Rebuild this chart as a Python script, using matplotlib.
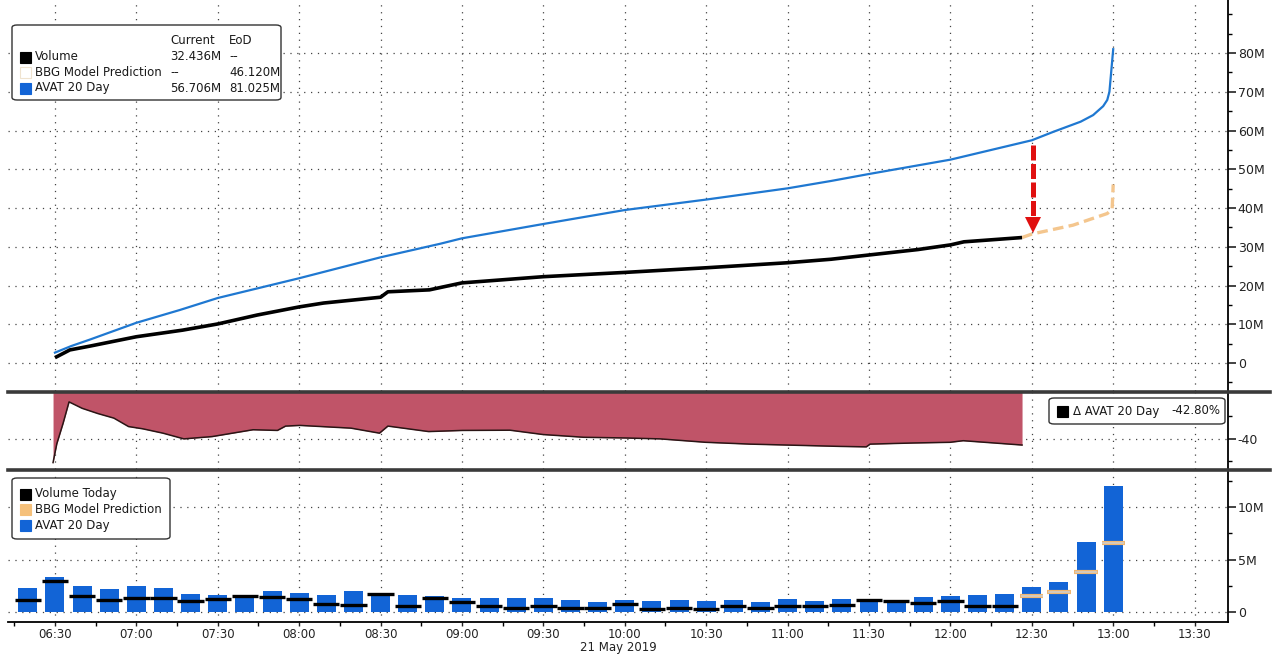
import matplotlib.pyplot as plt
import matplotlib.ticker as mticker
from matplotlib.lines import Line2D
from matplotlib.patches import FancyBboxPatch, Rectangle

plt.rcParams['font.family'] = ['DejaVu Sans']
plt.rcParams['axes.unicode_minus'] = False

# times are minutes after midnight
avat_t = [390, 396, 403, 420, 436, 450, 470, 480, 510, 532, 540, 570, 600, 630, 660,
          676, 690, 720, 750, 758, 768, 772.6, 776.3, 777.8, 778.6, 780]
avat_v = [2.7, 4.4, 6.1, 10.4, 13.7, 16.8, 20.2, 21.9, 27.3, 30.8, 32.2, 35.9, 39.5, 42.2, 45.1,
          47.0, 48.8, 52.5, 57.5, 59.7, 62.3, 64.0, 66.3, 67.9, 70.0, 81.0]

vol_t = [390, 395.5, 403, 420, 437, 450, 464.5, 480, 489, 510, 512.7, 528, 540, 570, 600,
         630, 660, 676, 690, 708, 720, 725, 746.4]
vol_v = [1.4, 3.4, 4.4, 6.8, 8.5, 10.1, 12.4, 14.5, 15.5, 17.0, 18.4, 18.9, 20.7, 22.3, 23.4,
         24.6, 25.9, 26.8, 27.9, 29.3, 30.5, 31.3, 32.4]

pred_t = [746.4, 750, 765.2, 777.8, 779.6, 780]
pred_v = [32.4, 33.3, 35.6, 38.6, 39.8, 46.1]

delta_t = [389.3, 390.7, 393, 395.2, 400, 405.8, 411.7, 417.1, 422.4, 429.8, 437.5, 447.9,
           463, 472, 475, 480.3, 499.1, 509.6, 512.7, 527.7, 540.2, 557.7, 569.9, 584.9,
           600.1, 613, 629.8, 646.2, 659.7, 679.4, 689, 690.4, 706.3, 719.9, 724.7, 746.4]
delta_v = [-50.5, -42.2, -33.3, -23.9, -26.7, -29.0, -31.0, -34.7, -35.7, -37.6, -40.1, -39.1,
           -36.1, -36.4, -34.5, -34.2, -35.4, -37.6, -34.5, -36.9, -36.4, -36.3, -38.2, -39.4,
           -39.7, -40.1, -41.6, -42.4, -42.8, -43.4, -43.6, -42.4, -41.9, -41.6, -40.9, -42.8]

bar_times = ['06:20', '06:30', '06:40', '06:50', '07:00', '07:10', '07:20', '07:30', '07:40',
             '07:50', '08:00', '08:10', '08:20', '08:30', '08:40', '08:50', '09:00', '09:10',
             '09:20', '09:30', '09:40', '09:50', '10:00', '10:10', '10:20', '10:30', '10:40',
             '10:50', '11:00', '11:10', '11:20', '11:30', '11:40', '11:50', '12:00', '12:10',
             '12:20', '12:30', '12:40', '12:50', '13:00']
avat_bars = [2.3, 3.3, 2.47, 2.18, 2.47, 2.28, 1.7, 1.6, 1.6, 2.02, 1.83, 1.6, 2.02, 1.65,
             1.6, 1.5, 1.28, 1.28, 1.35, 1.35, 1.12, 0.96, 1.12, 1.03, 1.12, 1.03, 1.12, 0.9,
             1.22, 1.03, 1.22, 1.12, 1.12, 1.38, 1.5, 1.6, 1.7, 2.37, 2.85, 6.73, 12.08]
vol_bars = [1.12, 2.95, 1.5, 1.12, 1.28, 1.28, 1.06, 1.22, 1.5, 1.44, 1.22, 0.74, 0.64, 1.7,
            0.54, 1.35, 0.96, 0.58, 0.38, 0.58, 0.38, 0.38, 0.74, 0.23, 0.38, 0.23, 0.58, 0.38,
            0.58, 0.58, 0.64, 1.12, 1.06, 0.86, 1.06, 0.58, 0.58]
pred_bars = [1.45, 1.9, 3.8, 6.6]

x_ticks = ['06:30', '07:00', '07:30', '08:00', '08:30', '09:00', '09:30', '10:00', '10:30',
           '11:00', '11:30', '12:00', '12:30', '13:00', '13:30']
top_ticks = [0, 10, 20, 30, 40, 50, 60, 70, 80]
bottom_ticks = [0, 5, 10]


def to_min(s):
    h, m = s.split(':')
    return int(h) * 60 + int(m)


def fmt_time(v, pos=None):
    v = int(round(v))
    return f'{v // 60:02d}:{v % 60:02d}'


def fmt_m(v, pos=None):
    return '0' if abs(v) < 1e-9 else f'{v:.0f}M'


W, H = 1280, 659
BLUE_LINE = '#1f78d1'
BLUE_BAR = '#1264d6'
ORANGE = '#f4c68e'
RED = '#e01010'
FILL = '#c05468'

fig = plt.figure(figsize=(W / 100, H / 100), dpi=100)
fig.patch.set_facecolor('white')


def px_axes(x0, y0, x1, y1):
    return fig.add_axes([x0 / W, 1 - y1 / H, (x1 - x0) / W, (y1 - y0) / H])


ax1 = px_axes(8, 0, 1228, 391)
ax2 = px_axes(8, 393, 1228, 469)
ax3 = px_axes(8, 471, 1228, 622)

xmin, xmax = 372.7, 822.3
grid_kw = dict(color='#444444', linestyle=(0, (1, 4.5)), linewidth=0.9)
major_x = [to_min(s) for s in x_ticks]

for ax in (ax1, ax2, ax3):
    ax.set_xlim(xmin, xmax)
    ax.yaxis.tick_right()
    for s in ('left', 'top', 'bottom'):
        ax.spines[s].set_visible(False)
    ax.spines['right'].set_linewidth(1.3)
    ax.spines['right'].set_color('black')
    ax.xaxis.set_major_locator(mticker.FixedLocator(major_x))
    ax.xaxis.set_minor_locator(mticker.MultipleLocator(15))
    ax.tick_params(axis='y', which='major', direction='out', length=6, width=1.2,
                   labelsize=9, colors='#222222', pad=1)
    ax.tick_params(axis='y', which='minor', direction='out', length=3, width=1.0)
    ax.grid(True, axis='both', which='major', **grid_kw)
    ax.set_axisbelow(True)

for ax in (ax1, ax2):
    ax.tick_params(axis='x', which='both', bottom=False, labelbottom=False)

ax3.spines['bottom'].set_visible(True)
ax3.spines['bottom'].set_linewidth(1.3)
ax3.xaxis.set_major_formatter(mticker.FuncFormatter(fmt_time))
ax3.tick_params(axis='x', which='major', direction='out', length=3, width=1.0,
                labelsize=8.5, colors='#222222', pad=1)
ax3.tick_params(axis='x', which='minor', direction='out', length=3, width=1.0)

# top panel: cumulative volume
ax1.set_ylim(-7.2, 93.7)
ax1.yaxis.set_major_locator(mticker.FixedLocator(top_ticks))
ax1.yaxis.set_minor_locator(mticker.MultipleLocator(5))
ax1.yaxis.set_major_formatter(mticker.FuncFormatter(fmt_m))
ax1.plot(avat_t, avat_v, color=BLUE_LINE, lw=1.6, zorder=3)
ax1.plot(pred_t, pred_v, color=ORANGE, lw=2.4, linestyle=(0, (3.2, 1.6)), zorder=3)
ax1.plot(vol_t, vol_v, color='black', lw=2.6, zorder=4, solid_capstyle='butt')

# red arrow showing the gap
arrow_t = 750.6
ax1.plot([arrow_t, arrow_t], [56.3, 37.6], color=RED, lw=3.6, linestyle=(0, (3, 0.7)),
         solid_capstyle='butt', zorder=5)
ax1.plot([arrow_t], [35.6], marker='v', markersize=12, color=RED, markeredgewidth=0, zorder=5)

# middle panel: delta vs AVAT
ax2.set_ylim(-53.3, -20)
ax2.yaxis.set_major_locator(mticker.FixedLocator([-40]))
ax2.yaxis.set_minor_locator(mticker.FixedLocator([-50, -30]))
ax2.yaxis.set_major_formatter(mticker.FuncFormatter(lambda v, p: f'{v:.0f}'))
ax2.fill_between(delta_t, delta_v, 0, color=FILL, linewidth=0, zorder=2)
ax2.plot(delta_t, delta_v, color='#2a1515', lw=1.1, zorder=3)

# bottom panel: interval volume
bar_x = [to_min(s) for s in bar_times]
ax3.set_ylim(-1.0, 13.5)
ax3.yaxis.set_major_locator(mticker.FixedLocator(bottom_ticks))
ax3.yaxis.set_minor_locator(mticker.MultipleLocator(2.5))
ax3.yaxis.set_major_formatter(mticker.FuncFormatter(fmt_m))
ax3.bar(bar_x, avat_bars, width=7.0, color=BLUE_BAR, linewidth=0, zorder=2)
vx = bar_x[:len(vol_bars)]
ax3.hlines(vol_bars, [x - 4.85 for x in vx], [x + 4.85 for x in vx], color='black',
           lw=2.4, zorder=3)
px = bar_x[len(bar_x) - len(pred_bars):]
ax3.hlines(pred_bars, [x - 4.3 for x in px], [x + 4.3 for x in px], color='#f0b772',
           lw=3.0, zorder=3)
ax3.hlines(pred_bars, [x - 4.0 for x in px], [x + 4.0 for x in px], color='#cfcfcf',
           lw=1.1, zorder=4)

# panel separators
for yy in (391.5, 469.5):
    fig.add_artist(Line2D([8 / W, 1270 / W], [1 - yy / H, 1 - yy / H], color='#3a3a3a',
                          lw=2.6, transform=fig.transFigure))

fig.text(618 / W, 1 - 648 / H, '21 May 2019', ha='center', va='center', fontsize=8.5,
         color='#222222')


# legends drawn in pixel coordinates
def box(x0, y0, x1, y1):
    fig.add_artist(FancyBboxPatch((x0 / W, 1 - y1 / H), (x1 - x0) / W, (y1 - y0) / H,
                                  boxstyle='round,pad=0,rounding_size=0.004',
                                  transform=fig.transFigure, facecolor='white',
                                  edgecolor='#333333', lw=1.0, zorder=10))


def square(x, y, face, edge=None):
    fig.add_artist(Rectangle((x / W, 1 - (y + 5.5) / H), 11 / W, 11 / H,
                             transform=fig.transFigure, facecolor=face,
                             edgecolor=edge if edge else face, lw=0.8, zorder=11))


def txt(x, y, s, ha='left'):
    fig.text(x / W, 1 - y / H, s, ha=ha, va='center', fontsize=8.5, color='#1a1a1a',
             zorder=12)


box(12, 25, 281, 100)
txt(170, 41, 'Current')
txt(229, 41, 'EoD')
rows = [('Volume', 'black', None, '32.436M', '--'),
        ('BBG Model Prediction', 'white', '#efe3cf', '--', '46.120M'),
        ('AVAT 20 Day', BLUE_BAR, None, '56.706M', '81.025M')]
for i, (name, face, edge, cur, eod) in enumerate(rows):
    yy = 57 + i * 15.5
    square(20, yy, face, edge)
    txt(35, yy, name)
    txt(170, yy, cur)
    txt(229, yy, eod)

box(1049, 398, 1225, 424)
square(1057, 411, 'black')
txt(1073, 411, '\u0394 AVAT 20 Day')
txt(1220, 411, '-42.80%', ha='right')

box(12, 478, 170, 539)
for i, (name, face) in enumerate([('Volume Today', 'black'),
                                  ('BBG Model Prediction', '#f5c07a'),
                                  ('AVAT 20 Day', BLUE_BAR)]):
    yy = 494 + i * 15.5
    square(20, yy, face)
    txt(35, yy, name)

plt.savefig('out.png', dpi=100)
